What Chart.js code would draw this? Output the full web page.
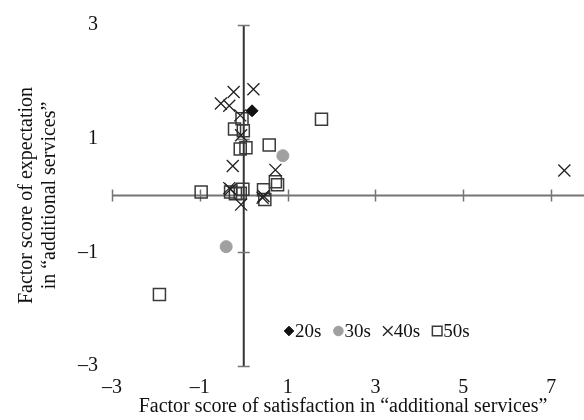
<!DOCTYPE html>
<html>
<head>
<meta charset="utf-8">
<script src="https://cdn.jsdelivr.net/npm/chart.js@4.4.1/dist/chart.umd.min.js"></script>
<style>
  html, body { margin: 0; padding: 0; background: #fff; }
  canvas { display: block; }
</style>
</head>
<body>
<canvas id="chart" width="584" height="420"></canvas>
<script>
'use strict';

// axis ticks
const xTicks = [-3, -1, 1, 3, 5, 7];
const yTicks = [3, 1, -1, -3];

// factor scores by age group: [satisfaction, expectation]
const age20 = [[0.19, 1.49]];
const age30 = [[0.89, 0.70], [-0.40, -0.90]];
const age40 = [
  [-0.23, 1.82], [0.22, 1.87], [-0.52, 1.62], [-0.33, 1.58], [-0.08, 1.41],
  [-0.06, 1.06], [-0.25, 0.52], [0.72, 0.45], [-0.30, 0.11], [-0.33, 0.13],
  [-0.06, -0.16], [0.43, -0.04], [0.45, -0.01], [7.30, 0.44],
];
const age50 = [
  [-0.04, 1.35], [-0.21, 1.17], [-0.01, 1.14], [-0.08, 0.82], [0.05, 0.84],
  [0.58, 0.89], [0.72, 0.24], [0.77, 0.19], [-0.97, 0.06], [-0.30, 0.06],
  [-0.19, 0.03], [-0.02, 0.11], [-0.08, 0.04], [0.45, 0.10], [0.48, -0.07],
  [1.77, 1.34], [-1.92, -1.74],
];

const toPts = (arr) => arr.map(([x, y]) => ({ x, y }));
const serif = "'Liberation Serif', 'DejaVu Serif', serif";
const fmt = (v) => (v < 0 ? '\u2013' + Math.abs(v) : String(v));

const crossAxes = {
  id: 'crossAxes',
  beforeDatasetsDraw(chart) {
    const { ctx, chartArea, scales: { x, y } } = chart;
    const x0 = x.getPixelForValue(0);
    const y0 = y.getPixelForValue(0);
    ctx.save();
    // horizontal axis through y = 0, runs off the right edge
    ctx.strokeStyle = '#747474';
    ctx.lineWidth = 2;
    ctx.beginPath();
    ctx.moveTo(chartArea.left, y0);
    ctx.lineTo(chart.width, y0);
    ctx.stroke();
    ctx.lineWidth = 1.5;
    xTicks.forEach(v => {
      const px = Math.round(x.getPixelForValue(v)) + 0.5;
      ctx.beginPath();
      ctx.moveTo(px, y0 - 6);
      ctx.lineTo(px, y0 + 6);
      ctx.stroke();
    });
    // vertical axis through x = 0
    ctx.strokeStyle = '#333';
    ctx.lineWidth = 2;
    ctx.beginPath();
    ctx.moveTo(x0, chartArea.top);
    ctx.lineTo(x0, chartArea.bottom);
    ctx.stroke();
    ctx.strokeStyle = '#747474';
    ctx.lineWidth = 1.5;
    yTicks.forEach(v => {
      const py = Math.round(y.getPixelForValue(v)) + 0.5;
      ctx.beginPath();
      ctx.moveTo(x0 - 6, py);
      ctx.lineTo(x0 + 6, py);
      ctx.stroke();
    });
    ctx.restore();
  },
  afterDatasetsDraw(chart) {
    // legend inside the plot, lower right
    const { ctx, chartArea } = chart;
    let px = chartArea.left + 172;
    const py = chartArea.bottom - 35;
    ctx.save();
    ctx.font = '19px ' + serif;
    ctx.textBaseline = 'middle';
    chart.data.datasets.forEach(ds => {
      ctx.fillStyle = ds.backgroundColor;
      ctx.strokeStyle = ds.borderColor;
      ctx.lineWidth = ds.borderWidth;
      Chart.helpers.drawPoint(ctx, {
        pointStyle: ds.pointStyle, radius: ds.pointRadius * 0.8, rotation: 0, borderWidth: ds.borderWidth,
      }, px + 5, py);
      ctx.fillStyle = '#111';
      ctx.fillText(ds.label, px + 11, py + 1);
      px += 11 + ctx.measureText(ds.label).width + 12;
    });
    ctx.restore();
  },
};

new Chart(document.getElementById('chart'), {
  type: 'scatter',
  data: {
    datasets: [
      { label: '20s', data: toPts(age20), pointStyle: 'rectRot', pointRadius: 6,
        backgroundColor: '#111', borderColor: '#111', borderWidth: 1 },
      { label: '30s', data: toPts(age30), pointStyle: 'circle', pointRadius: 6,
        backgroundColor: '#a0a0a0', borderColor: '#a0a0a0', borderWidth: 1 },
      { label: '40s', data: toPts(age40), pointStyle: 'crossRot', pointRadius: 8.5,
        backgroundColor: 'rgba(0,0,0,0)', borderColor: '#222', borderWidth: 1.3 },
      { label: '50s', data: toPts(age50), pointStyle: 'rect', pointRadius: 8.5,
        backgroundColor: 'rgba(0,0,0,0)', borderColor: '#3a3a3a', borderWidth: 1.5 },
    ],
  },
  options: {
    responsive: false,
    animation: false,
    events: [],
    layout: { padding: { top: -2, right: 0, left: 15, bottom: 2 } },
    plugins: { legend: { display: false }, tooltip: { enabled: false } },
    scales: {
      x: {
        type: 'linear',
        min: -3,
        max: 7.52,
        afterBuildTicks: (s) => { s.ticks = xTicks.map(v => ({ value: v })); },
        grid: { display: false, drawTicks: false },
        border: { display: false },
        ticks: { color: '#111', font: { family: serif, size: 20, lineHeight: 1.5 }, padding: 7, maxRotation: 0, callback: fmt },
        title: {
          display: true,
          text: 'Factor score of satisfaction in \u201cadditional services\u201d',
          color: '#111',
          font: { family: serif, size: 20, lineHeight: 1.1 },
          padding: { top: -14, bottom: 0 },
        },
      },
      y: {
        type: 'linear',
        min: -3,
        max: 3,
        afterBuildTicks: (s) => { s.ticks = yTicks.map(v => ({ value: v })); },
        grid: { display: false, drawTicks: false },
        border: { display: false },
        ticks: { color: '#111', font: { family: serif, size: 20, lineHeight: 1.1 }, padding: 14, callback: fmt },
        title: {
          display: true,
          text: ['Factor score of expectation', 'in \u201cadditional services\u201d'],
          color: '#111',
          font: { family: serif, size: 20, lineHeight: 1.15 },
          padding: { top: 0, bottom: 3 },
        },
      },
    },
  },
  plugins: [crossAxes],
});
</script>
</body>
</html>
